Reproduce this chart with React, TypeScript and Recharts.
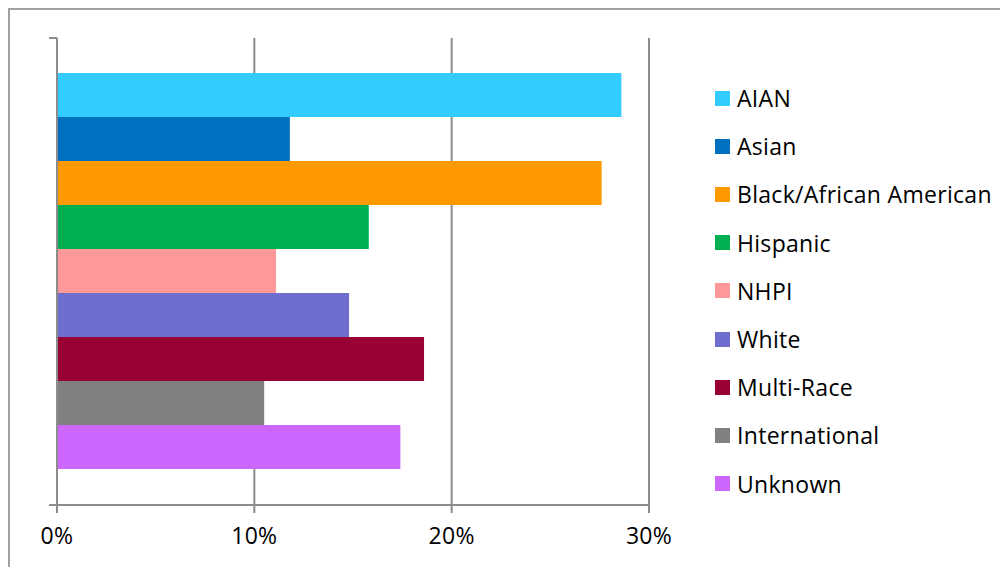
import { Bar, BarChart, CartesianGrid, XAxis, YAxis } from 'recharts'

const GROUPS = [
  'AIAN',
  'Asian',
  'Black/African American',
  'Hispanic',
  'NHPI',
  'White',
  'Multi-Race',
  'International',
  'Unknown',
]
const RATES = [28.6, 11.8, 27.6, 15.8, 11.1, 14.8, 18.6, 10.5, 17.4]
const COLORS = [
  '#33CCFF',
  '#0070C0',
  '#FF9900',
  '#00B050',
  '#FF9999',
  '#6E6ECE',
  '#990033',
  '#808080',
  '#CC66FF',
]
const X_TICKS = [0, 10, 20, 30]

const FONT = '"Open Sans", Lato, sans-serif'
const AXIS = '#8c8c8c'
const PLOT_HEIGHT = 467

// one category row, every group is its own series
const row: Record<string, number | string> = { name: 'all' }
GROUPS.forEach((g, i) => {
  row[g] = RATES[i]
})
const data = [row]

// Excel puts the category ticks at the band edges, not at the band center
function EdgeTicks(props: { x: number; y: number }) {
  const { x, y } = props
  const half = PLOT_HEIGHT / 2
  return (
    <g stroke={AXIS} strokeWidth={2}>
      <line x1={x - 8} x2={x} y1={y - half} y2={y - half} />
      <line x1={x - 8} x2={x} y1={y + half} y2={y + half} />
    </g>
  )
}

function Legend() {
  return (
    <div style={{ position: 'absolute', left: 705, top: 64, fontFamily: FONT }}>
      {GROUPS.map((g, i) => (
        <div
          key={g}
          style={{
            display: 'flex',
            alignItems: 'center',
            height: 48.2,
            fontSize: 23,
            letterSpacing: 0.3,
            color: '#000',
          }}
        >
          <span style={{ width: 15, height: 15, background: COLORS[i], marginRight: 7 }} />
          <span>{g}</span>
        </div>
      ))}
    </div>
  )
}

export default function App() {
  return (
    <div
      style={{
        position: 'relative',
        width: 1010,
        height: 570,
        border: '2px solid #a0a0a0',
        boxSizing: 'border-box',
        background: '#fff',
      }}
    >
      <BarChart
        width={996}
        height={566}
        data={data}
        layout="vertical"
        margin={{ top: 28, right: 357, bottom: 31, left: 37 }}
        barCategoryGap={35}
        barGap={0}
      >
        <CartesianGrid horizontal={false} stroke={AXIS} strokeWidth={2} />
        <XAxis
          type="number"
          domain={[0, 30]}
          ticks={X_TICKS}
          tickFormatter={(v) => `${v}%`}
          height={40}
          tickSize={8}
          tickMargin={15}
          stroke={AXIS}
          strokeWidth={2}
          tick={{ fill: '#000', fontSize: 23, fontFamily: FONT, letterSpacing: 0.3 }}
        />
        <YAxis
          type="category"
          dataKey="name"
          width={10}
          tickLine={false}
          tickSize={0}
          tickMargin={0}
          stroke={AXIS}
          strokeWidth={2}
          tick={(p: any) => <EdgeTicks x={p.x} y={p.y} />}
        />
        {GROUPS.map((g, i) => (
          <Bar key={g} dataKey={g} fill={COLORS[i]} isAnimationActive={false} />
        ))}
      </BarChart>
      <Legend />
    </div>
  )
}
